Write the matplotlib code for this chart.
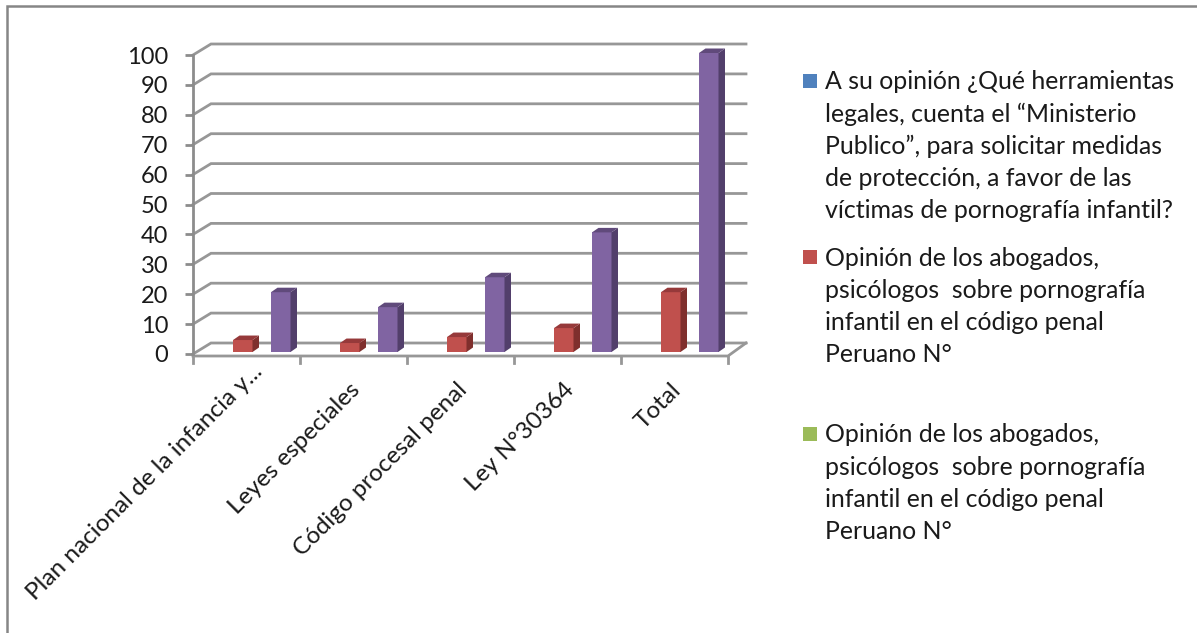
import matplotlib
matplotlib.use("Agg")
import matplotlib.pyplot as plt
from matplotlib.lines import Line2D
from matplotlib.patches import Polygon, Rectangle

categories = ["Plan nacional de la infancia y...", "Leyes especiales",
              "Código procesal penal", "Ley N°30364", "Total"]
red_values = [4, 3, 5, 8, 20]
purple_values = [20, 15, 25, 40, 100]
y_ticks = list(range(0, 101, 10))
legend_labels = [
    "A su opinión ¿Qué herramientas\nlegales, cuenta el “Ministerio\nPublico”, para solicitar medidas\nde protección, a favor de las\nvíctimas de pornografía infantil?",
    "Opinión de los abogados,\npsicólogos  sobre pornografía\ninfantil en el código penal\nPeruano N°",
    "Opinión de los abogados,\npsicólogos  sobre pornografía\ninfantil en el código penal\nPeruano N°",
]
legend_colors = ["#4F81BD", "#C0504D", "#9BBB59"]

W, H = 1197, 633
FS = 17.5
plt.rcParams["font.family"] = ["Lato", "DejaVu Sans"]
fig = plt.figure(figsize=(W / 100, H / 100), dpi=100, facecolor="white")

fig.add_artist(Line2D([7 / W, 7 / W, 1], [0, 1 - 6 / H, 1 - 6 / H], transform=fig.transFigure,
                      color="#868686", lw=1.8, solid_joinstyle="miter"))

x0, x1, ytop, ybot = 193, 728, 55, 354
ax = fig.add_axes([x0 / W, 1 - ybot / H, (x1 - x0) / W, (ybot - ytop) / H])
ax.set_xlim(0, len(categories))
ax.set_ylim(0, 100)
ax.patch.set_alpha(0)
for s in ["top", "right", "bottom"]:
    ax.spines[s].set_visible(False)
ax.spines["left"].set_color("#8C8C8C")
ax.spines["left"].set_linewidth(2)

ux = len(categories) / (x1 - x0)
uy = 100 / (ybot - ytop)
GRID = "#979797"
LW = 2

# depth of the floor / back wall
wx, wy = 18 * ux, 11 * uy
for t in y_ticks:
    ax.plot([0, wx, len(categories) + wx], [t, t + wy, t + wy], color=GRID, lw=LW,
            clip_on=False, zorder=1, solid_joinstyle="miter")
floor_y = -2 * uy
ax.plot([0, len(categories), len(categories) + wx], [floor_y, floor_y, wy], color=GRID, lw=LW,
        clip_on=False, zorder=1)
ax.set_yticks(y_ticks)
ax.set_yticklabels([str(t) for t in y_ticks], fontsize=17, color="#1A1A1A")
ax.tick_params(axis="y", length=5.8, width=LW, color="#8C8C8C", pad=12)

ax.set_xticks(range(len(categories) + 1))
ax.set_xticklabels([])
ax.tick_params(axis="x", length=0)
for i in range(len(categories) + 1):
    ax.plot([i, i], [floor_y, floor_y - 7 * uy], color=GRID, lw=LW, clip_on=False, zorder=1)

# category labels, rotated and ending under each group centre
for i, c in enumerate(categories):
    offset = (5, -7) if c.endswith("...") else (-4, -25)
    ax.annotate(c, xy=(i + 0.5, 0), xycoords=("data", "axes fraction"), xytext=offset,
                textcoords="offset pixels", rotation=45, rotation_mode="anchor",
                ha="right", va="top", fontsize=FS, color="#1A1A1A", annotation_clip=False)

# bars with pseudo 3D sides
bw = 19.5 * ux
dx, dy = 6.5 * ux, 4.5 * uy
base = 2 * uy


def bars(offset, values, front, side, top):
    xs = [i + offset for i in range(len(values))]
    ax.bar(xs, values, width=bw, bottom=base, align="edge", color=front, edgecolor="none", zorder=3,
           clip_on=False)
    for x, h in zip(xs, values):
        yt = base + h
        ax.add_patch(Polygon([(x + bw, base), (x + bw + dx, base + dy), (x + bw + dx, yt + dy), (x + bw, yt)],
                             facecolor=side, edgecolor="none", zorder=3, clip_on=False))
        ax.add_patch(Polygon([(x, yt), (x + dx, yt + dy), (x + bw + dx, yt + dy), (x + bw, yt)],
                             facecolor=top, edgecolor="none", zorder=3, clip_on=False))


bars(40 / 107, red_values, "#C0504D", "#7F2F2D", "#96393A")
bars(78 / 107, purple_values, "#8064A2", "#523F6B", "#604A7B")

# legend
entry_y = [80.5, 257, 434]
for y, label, col in zip(entry_y, legend_labels, legend_colors):
    fig.add_artist(Rectangle((803 / W, 1 - (y + 7) / H), 14 / W, 14 / H, transform=fig.transFigure,
                             facecolor=col, edgecolor="none"))
    fig.text(825 / W, 1 - (y - 10.5) / H, label, ha="left", va="top", fontsize=17.9, color="#1A1A1A",
             linespacing=1.48)

fig.savefig("out.png", dpi=100, facecolor="white")
